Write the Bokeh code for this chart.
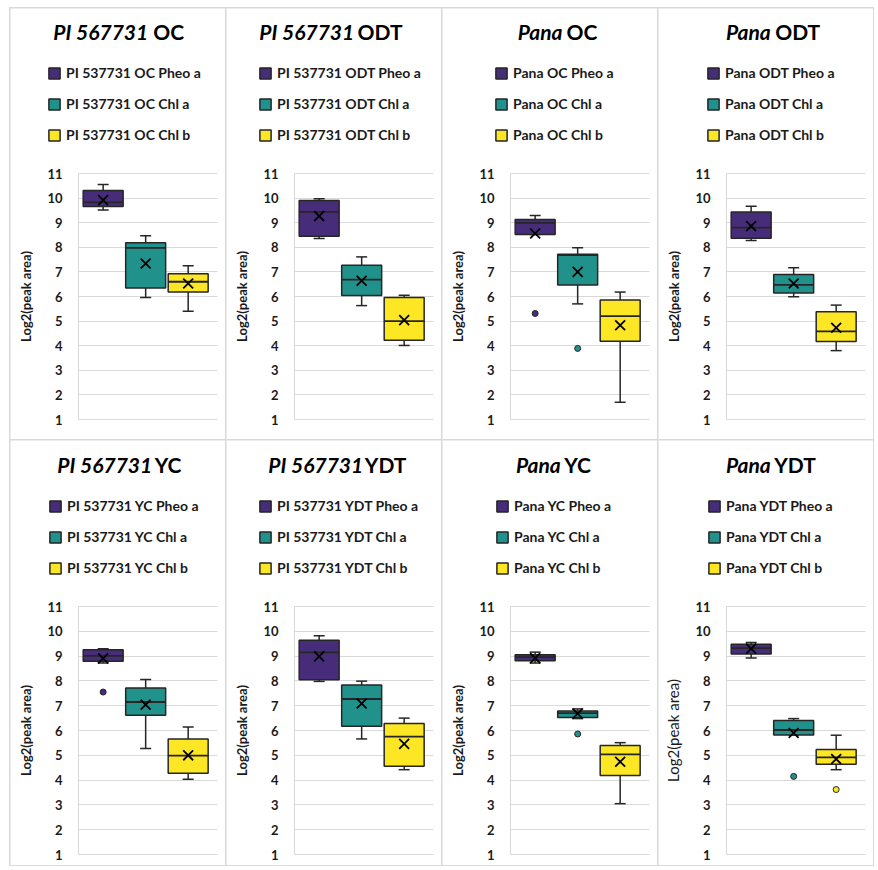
from bokeh.plotting import figure
from bokeh.models import ColumnDataSource, Range1d, FixedTicker, Legend, LegendItem, Label
from bokeh.layouts import row, column
from bokeh.embed import file_html
from bokeh.resources import INLINE

# ---------------- data ----------------
title_italic = ["PI 567731", "PI 567731", "Pana", "Pana", "PI 567731", "PI 567731", "Pana", "Pana"]
title_rest = ["OC", "ODT", "OC", "ODT", "YC", "YDT", "YC", "YDT"]
legend_prefix = ["PI 537731 OC", "PI 537731 ODT", "Pana OC", "Pana ODT",
                 "PI 537731 YC", "PI 537731 YDT", "Pana YC", "Pana YDT"]
pigments = ["Pheo a", "Chl a", "Chl b"]
positions = [1, 2, 3]
y_ticks = [1, 2, 3, 4, 5, 6, 7, 8, 9, 10, 11]

whisker_hi = [[10.55, 8.47, 7.25], [9.97, 7.61, 6.05], [9.29, 7.98, 6.18], [9.67, 7.17, 5.65],
              [9.30, 8.06, 6.14], [9.82, 7.99, 6.50], [9.16, 6.87, 5.51], [9.55, 6.48, 5.81]]
q3 = [[10.31, 8.18, 6.92], [9.90, 7.27, 5.96], [9.13, 7.72, 5.86], [9.43, 6.89, 5.38],
      [9.26, 7.71, 5.66], [9.64, 7.83, 6.28], [9.05, 6.79, 5.40], [9.48, 6.40, 5.23]]
median = [[9.83, 7.98, 6.60], [9.44, 6.69, 5.00], [8.99, 7.68, 5.20], [8.80, 6.47, 4.58],
          [9.01, 7.15, 4.99], [9.15, 7.27, 5.75], [8.96, 6.70, 5.04], [9.32, 6.02, 4.92]]
q1 = [[9.66, 6.35, 6.18], [8.45, 6.04, 4.22], [8.52, 6.47, 4.18], [8.37, 6.14, 4.17],
      [8.79, 6.61, 4.28], [8.05, 6.17, 4.56], [8.81, 6.52, 4.19], [9.08, 5.82, 4.64]]
whisker_lo = [[9.52, 5.96, 5.40], [8.36, 5.63, 4.01], [8.52, 5.70, 1.70], [8.28, 5.99, 3.80],
              [8.72, 5.27, 4.03], [7.98, 5.66, 4.42], [8.72, 6.48, 3.05], [8.92, 5.82, 4.42]]
mean = [[9.92, 7.34, 6.53], [9.27, 6.64, 5.04], [8.56, 7.00, 4.83], [8.86, 6.53, 4.73],
        [8.91, 7.04, 5.00], [8.99, 7.09, 5.46], [8.92, 6.68, 4.74], [9.30, 5.90, 4.85]]
outlier_panel = [2, 2, 4, 6, 7, 7]
outlier_series = [0, 1, 0, 1, 1, 2]
outlier_value = [5.31, 3.89, 7.55, 5.86, 4.15, 3.62]

# ---------------- styles / layout ----------------
colors = ["#472c7a", "#21918c", "#fde725"]
edge = "#262626"
grid_color = "#d9d9d9"
FONT = "Lato"

FIG_W = 215
PLOT_LEFT_PX = 68        # left edge of the 1..11 plot area inside the panel
PLOT_W_PX = 139
X_LO_PLOT, X_HI_PLOT = 0.42, 3.69
PX_PER_X = PLOT_W_PX / (X_HI_PLOT - X_LO_PLOT)
X_LO = X_LO_PLOT - PLOT_LEFT_PX / PX_PER_X
X_HI = X_LO_PLOT + (FIG_W - PLOT_LEFT_PX) / PX_PER_X

# per row: figure height, px above value 11, px of 1..11 area, px below value 1
ROW_GEOM = [(431, 165, 246, 20), (425, 166, 248, 11)]
TITLE_Y = [408, 401]      # from panel bottom
LEGEND_Y = [296, 289]     # legend bottom from panel bottom

title_split = [(69.7, 74.7), (59.7, 63.0), (52.0, 56.0), (44.3, 48.7),
               (73.7, 76.3), (68.7, 70.3), (50.3, 53.7), (44.3, 47.7)]
legend_x = [-31, -36, -16, -20, -30, -36, -15, -19]


def make_panel(i):
    r = 0 if i < 4 else 1
    height, above_px, plot_px, below_px = ROW_GEOM[r]
    unit = plot_px / 10.0
    y_lo = 1 - below_px / unit
    y_hi = 11 + above_px / unit
    p = figure(width=FIG_W, height=height, output_backend="svg", toolbar_location=None,
               title=None, x_range=Range1d(X_LO, X_HI), y_range=Range1d(y_lo, y_hi),
               min_border_left=0, min_border_right=0, min_border_top=0,
               min_border_bottom=0)
    p.outline_line_color = None
    p.background_fill_color = "white"
    p.border_fill_color = "white"
    p.xaxis.visible = False
    p.xgrid.grid_line_color = None
    p.ygrid.grid_line_color = grid_color
    p.ygrid.grid_line_width = 1
    p.ygrid.ticker = FixedTicker(ticks=y_ticks)
    p.ygrid.cross_bounds = (X_LO_PLOT, X_HI_PLOT)
    ax = p.yaxis[0]
    ax.fixed_location = X_LO_PLOT
    ax.bounds = (1, 11)
    ax.ticker = FixedTicker(ticks=y_ticks)
    ax.axis_line_color = grid_color
    ax.major_tick_line_color = None
    ax.minor_tick_line_color = None
    ax.major_label_standoff = 10
    ax.major_label_text_font = FONT
    ax.major_label_text_font_style = "bold"
    ax.major_label_text_font_size = "13px"
    ax.major_label_text_color = "#1a1a1a"
    ax.axis_label = "Log2(peak area)"
    ax.axis_label_text_font = FONT
    ax.axis_label_text_color = "#1a1a1a"
    ax.axis_label_standoff = 10
    if i == 7:
        ax.axis_label_text_font_style = "normal"
        ax.axis_label_text_font_size = "15px"
    else:
        ax.axis_label_text_font_style = "bold"
        ax.axis_label_text_font_size = "13px"

    src = ColumnDataSource(dict(x=positions, q1=q1[i], q3=q3[i], med=median[i],
                                hi=whisker_hi[i], lo=whisker_lo[i], mean=mean[i],
                                color=colors))
    p.segment(x0="x", y0="q3", x1="x", y1="hi", source=src, line_color=edge, line_width=1.5)
    p.segment(x0="x", y0="q1", x1="x", y1="lo", source=src, line_color=edge, line_width=1.5)
    p.scatter(x="x", y="hi", marker="dash", size=11, source=src, line_color=edge, line_width=1.5)
    p.scatter(x="x", y="lo", marker="dash", size=11, source=src, line_color=edge, line_width=1.5)
    box_r = p.vbar(x="x", width=0.94, top="q3", bottom="q1", source=src,
                   fill_color="color", line_color=edge, line_width=1.5)
    p.scatter(x="x", y="med", marker="dash", size=40, source=src, line_color=edge, line_width=1.8)
    p.scatter(x="x", y="mean", marker="x", size=14, source=src, line_color="black", line_width=1.8)

    ox, oy, oc = [], [], []
    for pn, s, v in zip(outlier_panel, outlier_series, outlier_value):
        if pn == i:
            ox.append(positions[s])
            oy.append(v)
            oc.append(colors[s])
    if ox:
        osrc = ColumnDataSource(dict(x=ox, y=oy, color=oc))
        p.scatter(x="x", y="y", marker="circle", size=6, source=osrc,
                  fill_color="color", line_color=edge, line_width=1)

    items = [LegendItem(label=f"{legend_prefix[i]} {pig}", renderers=[box_r], index=j)
             for j, pig in enumerate(pigments)]
    legend = Legend(items=items, location=(PLOT_LEFT_PX + legend_x[i], LEGEND_Y[r]),
                    orientation="vertical",
                    glyph_width=14, glyph_height=14, label_height=16, label_standoff=5,
                    spacing=14, padding=0, margin=0, border_line_color=None,
                    background_fill_alpha=0, label_text_font=FONT,
                    label_text_font_style="bold", label_text_font_size="14px",
                    label_text_color="#1a1a1a")
    p.add_layout(legend)

    s_end, s_start = title_split[i]
    p.add_layout(Label(x=PLOT_LEFT_PX + s_end, y=TITLE_Y[r], x_units="screen", y_units="screen",
                       text=title_italic[i], text_align="right", text_baseline="middle",
                       text_font=FONT, text_font_style="bold italic",
                       text_font_size="21px", text_color="black"))
    p.add_layout(Label(x=PLOT_LEFT_PX + s_start, y=TITLE_Y[r], x_units="screen", y_units="screen",
                       text=title_rest[i], text_align="left", text_baseline="middle",
                       text_font=FONT, text_font_style="bold",
                       text_font_size="21px", text_color="black"))
    return p


figs = [make_panel(i) for i in range(8)]
layout = column(row(*figs[:4], spacing=1), row(*figs[4:], spacing=1), spacing=1,
                styles={"background-color": grid_color, "padding": "1px",
                        "margin": "7px 0 0 9px"})

open("out.html", "w").write(file_html(layout, INLINE))
